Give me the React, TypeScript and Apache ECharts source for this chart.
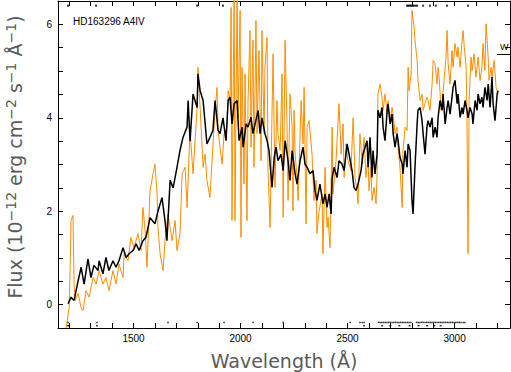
import React, { useEffect, useRef } from 'react';
import * as echarts from 'echarts';

const X_MIN = 1147;
const X_MAX = 3259;
const Y_MIN = -0.5;
const Y_MAX = 6.5;

const xLabelValues = [1500, 2000, 2500, 3000];
const xTickValues = [1200, 1300, 1400, 1500, 1600, 1700, 1800, 1900, 2000, 2100, 2200, 2300, 2400, 2500, 2600, 2700, 2800, 2900, 3000, 3100, 3200];
const yLabelValues = [0, 2, 4, 6];
const yTickValues = [0, 0.5, 1, 1.5, 2, 2.5, 3, 3.5, 4, 4.5, 5, 5.5, 6];

// black spectrum: [wavelength (Å), flux]
const blackSpectrum: [number, number][] = [
  [1194, 0.02], [1208, 0.16], [1222, 0.09], [1241, 0.51], [1255, 0.80], [1269, 0.44], [1287, 0.98], [1301, 0.58],
  [1315, 0.84], [1334, 0.73], [1339, 0.94], [1357, 0.66], [1371, 1.01], [1385, 0.73], [1404, 0.94], [1418, 0.80],
  [1432, 0.94], [1451, 1.22], [1465, 1.01], [1479, 1.09], [1498, 1.16], [1512, 1.30], [1526, 1.16], [1544, 1.37],
  [1558, 1.44], [1577, 1.86], [1600, 1.73], [1614, 2.00], [1633, 2.29], [1647, 1.80], [1656, 1.37], [1671, 2.66],
  [1685, 2.50], [1703, 2.94], [1717, 3.30], [1731, 3.58], [1750, 3.80], [1755, 4.37], [1764, 3.50], [1778, 4.51],
  [1797, 4.22], [1801, 4.94], [1811, 4.58], [1825, 4.37], [1843, 3.44], [1857, 3.58], [1871, 3.73], [1881, 4.37],
  [1895, 3.73], [1904, 3.66], [1918, 4.00], [1932, 3.51], [1942, 4.37], [1951, 4.44], [1960, 3.87], [1970, 4.30],
  [1984, 4.37], [1993, 3.51], [2007, 3.80], [2012, 3.37], [2026, 3.87], [2035, 3.80], [2049, 4.01], [2058, 3.66],
  [2068, 3.87], [2082, 4.16], [2091, 3.66], [2100, 4.00], [2114, 3.66], [2124, 3.51], [2133, 3.30], [2147, 2.51],
  [2157, 3.15], [2166, 3.37], [2175, 3.08], [2189, 3.22], [2199, 2.87], [2208, 3.51], [2222, 3.08], [2231, 2.66],
  [2241, 3.30], [2255, 2.80], [2264, 2.58], [2278, 3.08], [2292, 3.37], [2301, 3.01], [2311, 2.94], [2325, 2.80],
  [2339, 2.87], [2348, 2.44], [2357, 2.23], [2371, 2.58], [2385, 2.16], [2395, 2.37], [2404, 2.08], [2414, 2.37],
  [2423, 1.94], [2428, 2.72], [2437, 2.94], [2451, 2.72], [2460, 3.08], [2474, 3.01], [2484, 2.87], [2498, 3.44],
  [2507, 3.22], [2521, 2.87], [2530, 2.51], [2540, 2.44], [2549, 2.58], [2563, 2.87], [2572, 3.22], [2582, 3.37],
  [2591, 3.51], [2596, 2.94], [2605, 3.58], [2614, 2.72], [2619, 3.30], [2628, 2.80], [2638, 3.22], [2642, 4.16],
  [2652, 4.00], [2661, 4.22], [2666, 3.80], [2675, 3.51], [2685, 4.16], [2689, 4.30], [2699, 3.87], [2708, 4.08],
  [2713, 3.66], [2722, 3.37], [2731, 3.66], [2736, 3.51], [2745, 3.15], [2755, 3.01], [2759, 2.80], [2769, 3.30],
  [2778, 2.94], [2783, 3.44], [2792, 3.30], [2801, 2.23], [2806, 1.94], [2815, 2.94], [2825, 3.87], [2829, 4.16],
  [2839, 4.22], [2848, 3.94], [2853, 3.66], [2862, 3.22], [2871, 3.80], [2876, 3.94], [2885, 3.80], [2895, 4.00],
  [2900, 3.58], [2909, 3.80], [2918, 3.58], [2923, 4.00], [2932, 4.37], [2942, 4.16], [2946, 4.51], [2956, 3.87],
  [2965, 4.22], [2970, 4.37], [2979, 4.08], [2988, 4.44], [2993, 4.65], [3002, 4.80], [3012, 4.30], [3016, 4.51],
  [3026, 4.01], [3035, 4.22], [3040, 4.08], [3049, 4.37], [3058, 4.16], [3063, 4.00], [3072, 4.22], [3082, 4.08],
  [3086, 3.87], [3096, 4.37], [3105, 4.16], [3110, 4.51], [3119, 4.30], [3128, 4.44], [3133, 4.22], [3142, 4.65],
  [3152, 4.37], [3157, 4.72], [3166, 4.22], [3175, 4.87], [3180, 4.30], [3189, 3.94], [3199, 4.51], [3203, 4.58],
];

// orange spectrum: [wavelength (Å), flux]
const orangeSpectrum: [number, number][] = [
  [1185, -0.50], [1199, -0.07], [1203, 0.66], [1208, 1.80], [1217, 1.91], [1222, 0.44], [1227, 0.09], [1241, 0.24],
  [1255, -0.07], [1264, -0.13], [1278, 0.30], [1292, 0.16], [1311, 0.58], [1325, 0.44], [1339, 0.73], [1357, 0.44],
  [1371, 0.58], [1385, 0.30], [1404, 0.73], [1418, 0.44], [1432, 0.87], [1451, 0.58], [1456, 1.09], [1474, 0.94],
  [1488, 1.44], [1502, 1.22], [1521, 1.52], [1535, 1.16], [1544, 2.08], [1554, 1.58], [1563, 0.80], [1577, 2.44],
  [1591, 2.80], [1600, 3.01], [1610, 2.37], [1614, 1.65], [1624, 1.09], [1638, 0.73], [1647, 1.37], [1661, 1.94],
  [1680, 1.37], [1694, 1.80], [1703, 1.16], [1717, 1.52], [1727, 2.80], [1741, 2.94], [1750, 2.08], [1764, 3.73],
  [1778, 2.80], [1797, 4.22], [1801, 5.08], [1811, 4.22], [1825, 2.94], [1834, 3.22], [1843, 2.66], [1857, 2.29],
  [1867, 3.08], [1881, 4.16], [1890, 4.65], [1895, 3.73], [1904, 3.37], [1914, 3.01], [1923, 3.66], [1937, 3.80],
  [1942, 4.58], [1951, 4.37], [1956, 6.36], [1960, 1.80], [1970, 6.80], [1974, 1.80], [1984, 6.80], [1988, 4.00],
  [1998, 6.30], [2002, 1.44], [2007, 5.08], [2016, 2.58], [2021, 4.94], [2030, 1.80], [2035, 4.37], [2044, 5.87],
  [2049, 3.37], [2058, 5.66], [2063, 2.94], [2072, 6.08], [2077, 3.66], [2086, 5.44], [2096, 3.08], [2100, 5.87],
  [2110, 3.66], [2114, 5.08], [2124, 5.72], [2128, 2.94], [2138, 1.65], [2147, 4.08], [2152, 5.37], [2161, 2.51],
  [2170, 4.37], [2175, 3.66], [2185, 3.30], [2194, 4.94], [2199, 1.87], [2208, 5.66], [2217, 3.87], [2222, 2.23],
  [2231, 4.51], [2241, 3.80], [2245, 2.01], [2250, 4.16], [2255, 3.22], [2264, 2.72], [2269, 2.23], [2283, 4.37],
  [2292, 3.44], [2297, 4.65], [2306, 1.73], [2311, 3.80], [2320, 3.94], [2334, 3.22], [2343, 2.23], [2353, 2.66],
  [2357, 1.52], [2367, 2.01], [2381, 2.37], [2385, 1.09], [2395, 2.94], [2404, 1.65], [2409, 1.87], [2418, 1.22],
  [2428, 3.80], [2432, 2.37], [2446, 3.08], [2451, 3.51], [2460, 4.30], [2470, 3.22], [2479, 3.87], [2484, 2.72],
  [2493, 3.44], [2502, 3.08], [2516, 2.87], [2526, 4.00], [2535, 2.72], [2544, 2.44], [2549, 2.16], [2558, 3.66],
  [2568, 3.01], [2577, 3.58], [2586, 2.72], [2596, 3.15], [2600, 2.44], [2610, 2.94], [2614, 2.23], [2624, 2.51],
  [2633, 2.16], [2638, 2.80], [2642, 4.51], [2652, 4.72], [2661, 4.44], [2666, 4.16], [2675, 4.51], [2685, 4.08],
  [2689, 4.37], [2699, 3.94], [2708, 4.22], [2713, 4.08], [2722, 3.66], [2731, 3.80], [2736, 3.37], [2745, 2.94],
  [2755, 2.08], [2759, 3.30], [2769, 3.80], [2778, 3.73], [2783, 5.08], [2787, 4.58], [2797, 4.94], [2801, 6.30],
  [2811, 5.94], [2815, 5.66], [2825, 5.23], [2829, 4.80], [2839, 4.37], [2848, 4.51], [2853, 4.16], [2862, 4.30],
  [2871, 4.44], [2876, 4.37], [2885, 4.16], [2895, 4.72], [2900, 5.23], [2909, 5.16], [2918, 4.72], [2923, 5.08],
  [2928, 4.87], [2937, 4.16], [2942, 4.37], [2951, 4.80], [2960, 5.30], [2965, 5.87], [2970, 5.16], [2979, 4.72],
  [2988, 5.44], [2993, 5.08], [3002, 5.59], [3012, 5.30], [3016, 5.51], [3026, 5.08], [3035, 5.66], [3040, 5.87],
  [3044, 5.59], [3054, 5.08], [3058, 4.00], [3063, 1.09], [3068, 4.37], [3077, 5.30], [3082, 5.01], [3091, 5.37],
  [3100, 4.87], [3110, 5.30], [3119, 4.80], [3128, 5.08], [3133, 5.59], [3142, 5.01], [3147, 6.01], [3157, 5.30],
  [3161, 4.80], [3171, 5.08], [3175, 4.87], [3185, 5.23], [3194, 4.65], [3203, 4.51],
];

// flagged pixels (quality marks) drawn along the top and bottom of the frame
const topFlagWavelengths = [1194, 1325, 1797, 1918, 2778, 2783, 2788, 2794, 2799, 2804, 2810, 2818, 2825, 2853, 2885, 2912, 2965, 3063];
const TOP_FLAG_LEVEL = 6.4;
const bottomFlagWavelengths = [
  1194, 1329, 1661, 1797, 1923, 2058, 2199, 2512, 2558, 2568, 2577,
  2645, 2652, 2660, 2668, 2676, 2684, 2692, 2700, 2708, 2716, 2724, 2732, 2740, 2748, 2756, 2764, 2772, 2780, 2788, 2796,
  2822, 2830, 2838, 2846, 2854, 2862, 2870, 2878, 2886, 2894, 2902, 2910, 2918, 2926, 2934, 2942, 2950, 2958, 2966,
  2974, 2982, 2990, 2998, 3006, 3014, 3022, 3030, 3040, 3048,
];
const BOTTOM_FLAG_LEVEL = -0.38;
const bottomFlagWavelengths2 = [1194, 1199, 1329, 2577, 2662, 2700, 2742, 2790, 2832, 2872, 2905, 2935];
const BOTTOM_FLAG_LEVEL2 = -0.45;

const TITLE = 'HD163296 A4IV';

export default function App() {
  const ref = useRef<HTMLDivElement>(null);
  useEffect(() => {
    document.body.style.margin = '0';
    const chart = echarts.init(ref.current!, null, { renderer: 'svg' });
    const lineCol = '#000';
    const xAxisBase = {
      type: 'value',
      min: X_MIN,
      max: X_MAX,
      splitLine: { show: false },
      axisLine: { show: true, onZero: false, lineStyle: { color: lineCol, width: 1 } },
      axisTick: { show: true, inside: true, length: 5, customValues: xTickValues, lineStyle: { color: lineCol, width: 1 } },
    };
    const yAxisBase = {
      type: 'value',
      min: Y_MIN,
      max: Y_MAX,
      splitLine: { show: false },
      axisLine: { show: true, onZero: false, lineStyle: { color: lineCol, width: 1 } },
      axisTick: { show: true, inside: true, length: 5, customValues: yTickValues, lineStyle: { color: lineCol, width: 1 } },
    };
    const titleFont = 'DejaVu Sans';
    const titleColor = '#5a5a5a';
    chart.setOption({
      animation: false,
      backgroundColor: '#fff',
      grid: { left: 58, right: 1, top: 1, bottom: 44, containLabel: false },
      xAxis: [
        {
          ...xAxisBase,
          position: 'bottom',
          axisLabel: {
            show: true,
            customValues: xLabelValues,
            formatter: (v: number) => String(v),
            fontSize: 10,
            fontFamily: 'Liberation Sans',
            color: '#000',
            margin: 5,
          },
        },
        { ...xAxisBase, position: 'top', axisLabel: { show: false } },
      ],
      yAxis: [
        {
          ...yAxisBase,
          position: 'left',
          axisLabel: {
            show: true,
            customValues: yLabelValues,
            formatter: (v: number) => String(v),
            fontSize: 10,
            fontFamily: 'Liberation Sans',
            color: '#000',
            margin: 6,
          },
        },
        { ...yAxisBase, position: 'right', axisLabel: { show: false } },
      ],
      series: [
        {
          type: 'line',
          data: orangeSpectrum,
          showSymbol: false,
          symbol: 'none',
          clip: true,
          lineStyle: { color: '#ff8c00', width: 1 },
          z: 2,
          silent: true,
        },
        {
          type: 'line',
          data: blackSpectrum,
          showSymbol: false,
          symbol: 'none',
          clip: true,
          lineStyle: { color: '#000', width: 1.5 },
          z: 3,
          silent: true,
        },
        {
          type: 'scatter',
          data: topFlagWavelengths.map((w) => [w, TOP_FLAG_LEVEL]),
          symbol: 'rect',
          symbolSize: 2,
          itemStyle: { color: '#000' },
          silent: true,
          z: 4,
        },
        {
          type: 'scatter',
          data: bottomFlagWavelengths.map((w) => [w, BOTTOM_FLAG_LEVEL]),
          symbol: 'rect',
          symbolSize: [1.5, 1.5],
          itemStyle: { color: '#000' },
          silent: true,
          z: 4,
        },
        {
          type: 'scatter',
          data: bottomFlagWavelengths2.map((w) => [w, BOTTOM_FLAG_LEVEL2]),
          symbol: 'rect',
          symbolSize: [2, 1.5],
          itemStyle: { color: '#000' },
          silent: true,
          z: 4,
        },
      ],
      graphic: [
        {
          type: 'text',
          x: 14,
          y: 157,
          rotation: Math.PI / 2,
          silent: true,
          style: {
            text: '{n|Flux (10}{s|−12}{n| erg cm}{s|−2}{n| s}{s|−1}{n| Å}{s|−1}{n|)}',
            align: 'center',
            verticalAlign: 'middle',
            rich: {
              n: { fontSize: 19, fontFamily: titleFont, fill: titleColor, verticalAlign: 'bottom', lineHeight: 20 },
              s: { fontSize: 14, fontFamily: titleFont, fill: titleColor, verticalAlign: 'top', lineHeight: 14, padding: [0, 0, 11, 0] },
            },
          },
        },
        {
          type: 'text',
          x: 284,
          y: 361,
          silent: true,
          style: {
            text: 'Wavelength (Å)',
            align: 'center',
            verticalAlign: 'middle',
            fontSize: 19,
            fontFamily: titleFont,
            fill: titleColor,
          },
        },
        {
          type: 'text',
          x: 73,
          y: 21,
          silent: true,
          style: {
            text: TITLE,
            align: 'left',
            verticalAlign: 'middle',
            fontSize: 10,
            fontFamily: 'Liberation Sans',
            fill: '#000',
          },
        },
        {
          type: 'text',
          x: 500,
          y: 47,
          silent: true,
          style: { text: 'W', align: 'left', verticalAlign: 'middle', fontSize: 9, fontFamily: 'Liberation Sans', fill: '#000' },
        },
        {
          type: 'line',
          silent: true,
          shape: { x1: 497, y1: 54.5, x2: 510, y2: 54.5 },
          style: { stroke: '#000', lineWidth: 1 },
        },
      ],
    });
    return () => chart.dispose();
  }, []);
  return <div ref={ref} style={{ width: 511, height: 372 }} />;
}
